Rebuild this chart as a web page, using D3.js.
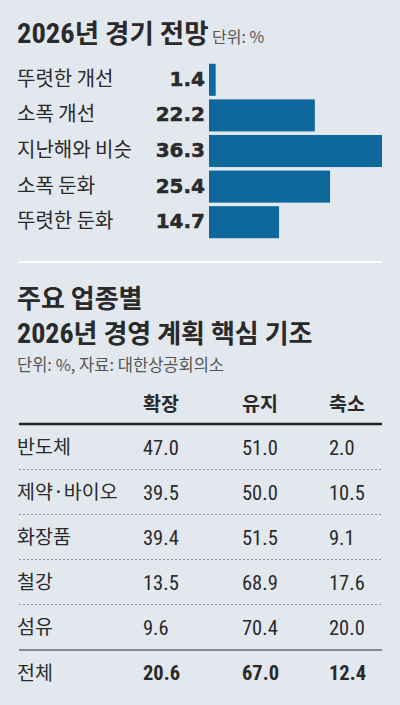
<!DOCTYPE html>
<html><head><meta charset="utf-8">
<script src="https://cdn.jsdelivr.net/npm/d3@7"></script>
<style>
html,body{margin:0;padding:0;background:#e2e8ee;}
svg{display:block;}
</style></head>
<body>
<script>
// ---- data ----
const outlookLabels = ["뚜렷한 개선", "소폭 개선", "지난해와 비슷", "소폭 둔화", "뚜렷한 둔화"];
const outlookValues = [1.4, 22.2, 36.3, 25.4, 14.7];
const industries = ["반도체", "제약·바이오", "화장품", "철강", "섬유"];
const colHeaders = ["확장", "유지", "축소"];
const expandVals = [47.0, 39.5, 39.4, 13.5, 9.6];
const maintainVals = [51.0, 50.0, 51.5, 68.9, 70.4];
const shrinkVals = [2.0, 10.5, 9.1, 17.6, 20.0];
const totalLabel = "전체";
const totalVals = [20.6, 67.0, 12.4];

const W = 400, H = 705;
const KR = "'Noto Sans CJK KR','Noto Sans',sans-serif";
const NARROW = "'Liberation Sans Narrow','Roboto Condensed','Liberation Sans',sans-serif";
const BOLDNUM = "'DejaVu Sans',sans-serif";
const ink = "#2a2a2a";

const svg = d3.select("body").append("svg").attr("width", W).attr("height", H);
svg.append("rect").attr("width", W).attr("height", H).attr("fill", "#e2e8ee");

// ---- title 1 ----
const t1 = svg.append("text").attr("x", 17).attr("y", 43)
  .attr("fill", ink).attr("font-family", KR).attr("font-weight", 700).attr("font-size", 26.5);
t1.append("tspan").attr("font-family", NARROW).attr("font-size", 28.5).text("2026");
t1.append("tspan").text("년 경기 전망");
svg.append("text").attr("x", 212).attr("y", 43).attr("fill", "#555")
  .attr("font-family", KR).attr("font-size", 16).text("단위: %");

// ---- bar chart ----
const y = d3.scaleBand().domain(outlookLabels).range([62, 240]).paddingInner(0.1).paddingOuter(0.05);
const x = d3.scaleLinear().domain([0, d3.max(outlookValues)]).range([209, 382]);

const rows = svg.append("g").selectAll("g").data(outlookLabels).join("g");
rows.append("rect")
  .attr("x", x(0)).attr("y", d => y(d))
  .attr("width", (d, i) => x(outlookValues[i]) - x(0))
  .attr("height", y.bandwidth()).attr("fill", "#0f689b");
rows.append("text")
  .attr("x", 17).attr("y", d => y(d) + y.bandwidth() / 2 + 6)
  .attr("fill", ink).attr("font-family", KR).attr("font-size", 20).text(d => d);
rows.append("text")
  .attr("x", 205).attr("y", d => y(d) + y.bandwidth() / 2 + 6)
  .attr("text-anchor", "end").attr("fill", ink)
  .attr("stroke", ink).attr("stroke-width", 0.5)
  .attr("font-family", BOLDNUM).attr("font-weight", 700).attr("font-size", 20)
  .text((d, i) => d3.format(".1f")(outlookValues[i]));

// separator
svg.append("line").attr("x1", 19).attr("x2", 382).attr("y1", 262).attr("y2", 262)
  .attr("stroke", "#ffffff").attr("stroke-width", 2);

// ---- title 2 ----
svg.append("text").attr("x", 17).attr("y", 308).attr("fill", ink)
  .attr("font-family", KR).attr("font-weight", 700).attr("font-size", 26).text("주요 업종별");
const t2 = svg.append("text").attr("x", 17).attr("y", 343)
  .attr("fill", ink).attr("font-family", KR).attr("font-weight", 700).attr("font-size", 26);
t2.append("tspan").attr("font-family", NARROW).attr("font-size", 28).text("2026");
t2.append("tspan").text("년 경영 계획 핵심 기조");
svg.append("text").attr("x", 17).attr("y", 371).attr("fill", "#555")
  .attr("font-family", KR).attr("font-size", 16.5).text("단위: %, 자료: 대한상공회의소");

// ---- table ----
const cols = d3.scaleOrdinal().domain(colHeaders).range([143, 242, 329]);
const rowKeys = [...industries, totalLabel];
const ty = d3.scaleBand().domain(rowKeys).range([425, 695]);
const fmt = d3.format(".1f");

svg.append("g").selectAll("text").data(colHeaders).join("text")
  .attr("x", d => cols(d)).attr("y", 411).attr("fill", ink)
  .attr("font-family", KR).attr("font-weight", 700).attr("font-size", 19.5).text(d => d);

svg.append("line").attr("x1", 19).attr("x2", 382).attr("y1", 424).attr("y2", 424)
  .attr("stroke", "#222").attr("stroke-width", 2.5);

const series = [expandVals, maintainVals, shrinkVals];
const trows = svg.append("g").selectAll("g").data(industries).join("g")
  .attr("transform", d => `translate(0,${ty(d)})`);
trows.append("text").attr("x", 17).attr("y", 29).attr("fill", ink)
  .attr("font-family", KR).attr("font-size", 19.5).text(d => d);
trows.each(function (d, i) {
  d3.select(this).selectAll("text.v").data(colHeaders).join("text").attr("class", "v")
    .attr("x", c => cols(c)).attr("y", 30).attr("fill", ink)
    .attr("font-family", NARROW).attr("font-size", 20.5)
    .text((c, j) => fmt(series[j][i]));
});
trows.filter((d, i) => i < industries.length - 1).append("line")
  .attr("x1", 19).attr("x2", 382).attr("y1", ty.step() - 0.5).attr("y2", ty.step() - 0.5)
  .attr("stroke", "#8b9096").attr("stroke-width", 1).attr("stroke-dasharray", "2,2");

svg.append("line").attr("x1", 19).attr("x2", 382)
  .attr("y1", ty(totalLabel)).attr("y2", ty(totalLabel))
  .attr("stroke", "#666a70").attr("stroke-width", 1.5);

const tot = svg.append("g").attr("transform", `translate(0,${ty(totalLabel)})`);
tot.append("text").attr("x", 17).attr("y", 30).attr("fill", ink)
  .attr("font-family", KR).attr("font-size", 19.5).text(totalLabel);
tot.selectAll("text.v").data(colHeaders).join("text").attr("class", "v")
  .attr("x", c => cols(c)).attr("y", 30).attr("fill", ink)
  .attr("font-family", NARROW).attr("font-weight", 700).attr("font-size", 20.5)
  .text((c, j) => fmt(totalVals[j]));
</script>
</body></html>
